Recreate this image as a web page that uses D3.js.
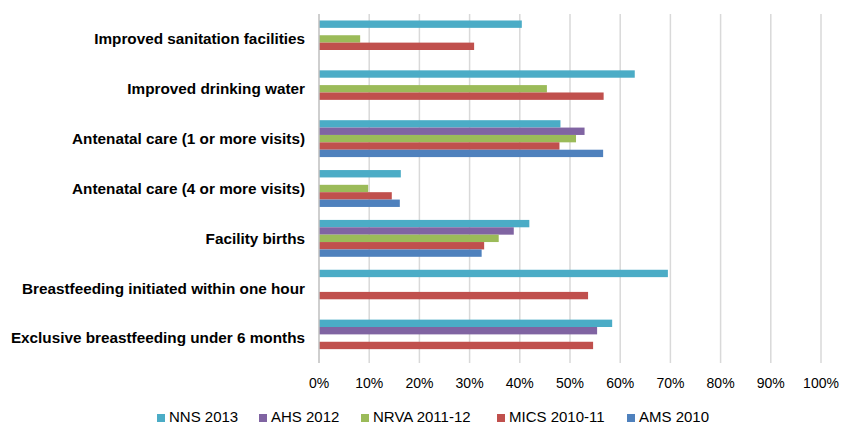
<!DOCTYPE html>
<html>
<head>
<meta charset="utf-8">
<script src="https://cdn.jsdelivr.net/npm/d3@7"></script>
<style>
  body { margin: 0; background: #fff; }
  text { font-family: "Liberation Sans", Arial, sans-serif; fill: #000; }
</style>
</head>
<body>
<svg id="chart" width="843" height="424"></svg>
<script>
const categories = [
  "Improved sanitation facilities",
  "Improved drinking water",
  "Antenatal care (1 or more visits)",
  "Antenatal care (4 or more visits)",
  "Facility births",
  "Breastfeeding initiated within one hour",
  "Exclusive breastfeeding under 6 months"
];
const seriesNames = ["NNS 2013", "AHS 2012", "NRVA 2011-12", "MICS 2010-11", "AMS 2010"];
const seriesColors = ["#4BACC6", "#8064A2", "#9BBB59", "#C0504D", "#4F81BD"];
// null = no value for that survey
const nns2013  = [40.4, 62.9, 48.1, 16.3, 41.9, 69.5, 58.4];
const ahs2012  = [null, null, 52.9, null, 38.8, null, 55.4];
const nrva2011 = [8.2, 45.4, 51.2, 9.8, 35.8, null, null];
const mics2010 = [30.9, 56.7, 47.9, 14.5, 32.9, 53.6, 54.6];
const ams2010  = [null, null, 56.6, 16.1, 32.4, null, null];
const seriesValues = [nns2013, ahs2012, nrva2011, mics2010, ams2010];
const tickValues = [0, 10, 20, 30, 40, 50, 60, 70, 80, 90, 100];

const svg = d3.select("#chart");
const plotLeft = 319, plotRight = 821, plotTop = 14, plotBottom = 363;

const x = d3.scaleLinear().domain([0, 100]).range([plotLeft, plotRight]);
const y = d3.scaleBand().domain(categories).range([plotTop, plotBottom]).paddingInner(0.26).paddingOuter(0.13);
const ySub = d3.scaleBand().domain(seriesNames).range([0, y.bandwidth()]);

// gridlines
svg.append("g")
  .selectAll("line")
  .data(tickValues.filter(d => d > 0))
  .join("line")
  .attr("x1", d => x(d)).attr("x2", d => x(d))
  .attr("y1", plotTop).attr("y2", plotBottom)
  .attr("stroke", "#d9d9d9").attr("stroke-width", 1.5);

// bars
const groups = svg.append("g")
  .selectAll("g")
  .data(categories)
  .join("g")
  .attr("transform", d => `translate(0,${y(d)})`);

groups.selectAll("rect")
  .data((c, ci) => seriesNames.map((s, si) => ({ s, si, v: seriesValues[si][ci] })).filter(d => d.v != null))
  .join("rect")
  .attr("x", x(0))
  .attr("y", d => ySub(d.s))
  .attr("width", d => x(d.v) - x(0))
  .attr("height", ySub.bandwidth())
  .attr("fill", d => seriesColors[d.si]);

// vertical axis line
svg.append("line")
  .attr("x1", x(0)).attr("x2", x(0))
  .attr("y1", plotTop).attr("y2", plotBottom)
  .attr("stroke", "#bfbfbf").attr("stroke-width", 1.5);

// category labels
svg.append("g")
  .selectAll("text")
  .data(categories)
  .join("text")
  .attr("x", 305)
  .attr("y", d => y(d) + y.bandwidth() / 2)
  .attr("dy", "0.35em")
  .attr("text-anchor", "end")
  .style("font-size", "15.3px")
  .style("font-weight", "bold")
  .text(d => d);

// x tick labels
svg.append("g")
  .selectAll("text")
  .data(tickValues)
  .join("text")
  .attr("x", d => x(d))
  .attr("y", 388)
  .attr("text-anchor", "middle")
  .style("font-size", "14px")
  .text(d => d + "%");

// legend
const legendX = [157, 259, 361, 497, 627];
const legend = svg.append("g")
  .selectAll("g")
  .data(seriesNames)
  .join("g")
  .attr("transform", (d, i) => `translate(${legendX[i]},418)`);
legend.append("rect")
  .attr("x", 0).attr("y", -4)
  .attr("width", 8).attr("height", 8)
  .attr("fill", (d, i) => seriesColors[i]);
legend.append("text")
  .attr("x", 12)
  .attr("y", 4.3)
  .style("font-size", "15px")
  .text(d => d);
</script>
</body>
</html>
